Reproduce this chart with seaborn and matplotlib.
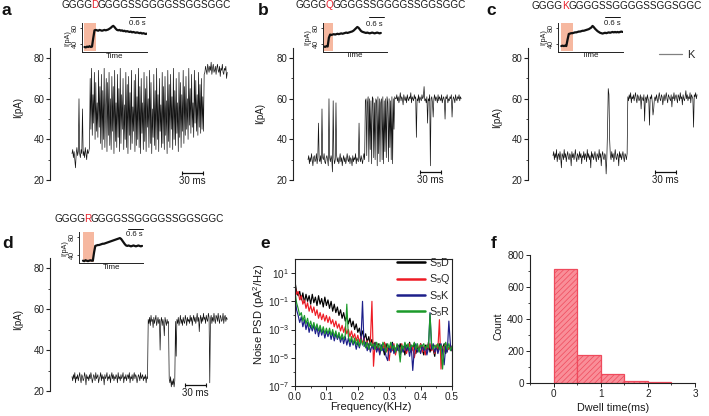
import numpy as np
import matplotlib
matplotlib.use("Agg")
import matplotlib.pyplot as plt
import matplotlib.transforms as mtransforms
import seaborn as sns
from matplotlib.lines import Line2D
from matplotlib.ticker import FixedLocator, MultipleLocator, NullFormatter

sns.set_theme(style="ticks")
plt.rcParams["font.family"] = ["Liberation Sans", "DejaVu Sans"]
plt.rcParams["mathtext.fontset"] = "custom"
plt.rcParams["mathtext.rm"] = "Liberation Sans"
plt.rcParams["mathtext.it"] = "Liberation Sans:italic"
plt.rcParams["mathtext.bf"] = "Liberation Sans:bold"
plt.rcParams["mathtext.default"] = "regular"
plt.rcParams["hatch.linewidth"] = 0.5

# ---------------- data ----------------
sequence_prefix = "GGGG"
sequence_suffix = "GGGGSSGGGGSSGGSGGC"
mutations = ["D", "Q", "K", "R"]

# current traces (pA), one sample per ms
trace_a = [33, 35, 31, 34, 30, 26, 33, 36, 32, 34, 60, 33, 31, 35, 33, 55, 32, 34, 31, 36, 33, 30, 35, 33, 34, 36,
           70, 45, 75, 42, 62, 48, 73, 40, 68, 44, 58, 41, 74, 46, 66,
           38, 72, 35, 64, 40, 75, 36, 55, 70, 34, 68, 42, 73, 37, 60, 35, 71, 44, 66, 33,
           74, 39, 58, 36, 72, 41, 65, 34, 75, 38, 62, 45, 70, 35, 57, 40, 73, 36, 67, 33,
           71, 42, 63, 35, 74, 38, 56, 44, 69, 34, 72, 37, 61, 40, 75, 36, 66, 33, 70, 43,
           58, 35, 73, 39, 65, 34, 71, 46, 60, 36, 74, 38, 68, 33, 55, 41, 72, 37, 64, 35,
           75, 40, 62, 34, 70, 44, 57, 36, 73, 38, 66, 35, 71, 42, 59, 33, 74, 39, 67, 36,
           72, 45, 61, 35, 75, 40, 64, 37, 70, 43, 58, 34, 73, 41, 68, 36, 62, 44, 74, 38,
           66, 42, 71, 45, 60, 40, 75, 47, 65, 43, 72, 46, 58, 41, 74, 48, 69, 44, 62, 42, 73, 46, 67, 43, 70, 45, 61, 44, 72,
           73, 76, 74, 72, 77, 75, 73, 76, 74, 78, 72, 75, 77, 73, 74, 76, 72, 75, 77, 74, 73, 76, 71, 75, 74, 77, 73, 72,
           75, 74, 76, 70, 73]

trace_b = [30, 32, 28, 31, 29, 33, 30, 27, 31, 32, 29, 30, 33, 28, 31, 48, 30, 29, 32, 28, 55, 31, 30, 33, 29, 28,
           31, 32, 30, 27, 60, 31, 29, 32, 30, 24, 59, 31, 28, 30, 58, 32, 29, 31, 28, 30, 33, 29, 31, 27, 30, 32,
           29, 31, 28, 30, 33, 30, 29, 32, 28, 31, 30, 27, 32, 29, 31, 30, 33, 28, 31, 30, 29, 48, 31, 29, 32, 30,
           28, 31, 33, 30,
           59, 60, 32, 58, 61, 29, 60, 35, 59, 28, 61, 60, 31, 58, 30, 60, 59, 27, 61, 33, 60, 29, 58, 60, 30, 61,
           28, 59, 34, 60, 31, 61, 58, 29, 60, 36, 59, 30, 61, 28, 60, 45, 61, 60,
           60, 62, 59, 61, 58, 60, 63, 59, 61, 60, 57, 62, 60, 59, 61, 58, 62, 60, 59, 61, 60, 63, 58, 61, 60, 59,
           62, 60, 61, 41, 60, 59, 62, 58, 61, 60, 59, 62, 60, 61, 66, 59, 60, 58, 61, 48, 60, 59, 62, 27, 60, 61,
           58, 51, 60, 62, 59, 61, 60, 58, 62, 59, 61, 60, 59, 62, 58, 60, 61, 59, 50, 61, 60, 62, 58, 60, 59, 61,
           60, 62, 51, 59, 61, 60, 58, 62, 60, 59, 61, 60, 62, 59, 61, 60]

trace_c = [32, 34, 30, 33, 31, 35, 29, 32, 33, 30, 34, 31, 26, 33, 32, 30, 35, 31, 33, 29, 32, 34, 31, 30, 33, 32,
           27, 34, 31, 33, 30, 32, 35, 31, 29, 33, 32, 30, 34, 31, 33, 28, 32, 31, 34, 30, 33, 32, 29, 35, 31, 33,
           30, 32, 26, 34, 31, 33, 30, 32, 34, 31, 29, 33, 32, 30, 35, 31, 33, 27, 32, 34, 31, 30, 33, 32, 23, 31,
           45, 65, 62, 40,
           32, 30, 34, 31, 33, 29, 32, 35, 31, 30, 33, 32, 27, 34, 31, 33, 30, 32, 34, 31, 29, 33, 32, 30, 33,
           61, 59, 62, 60, 63, 58, 61, 60, 62, 59, 61, 63, 60, 58, 62, 61, 59, 60, 62, 55, 61, 60, 59, 62, 49, 60,
           61, 58, 62, 60, 59, 47, 61, 60, 62, 58, 52, 55, 60, 61, 59, 62, 60, 58, 61, 63, 60, 59, 62, 61, 57, 60,
           62, 59, 61, 63, 60, 58, 62, 61, 60, 59, 62, 56, 61, 60, 63, 59, 61, 62, 60, 58, 62, 61, 59, 63, 60, 61,
           57, 62, 60, 59, 61, 64, 60, 62, 59, 61, 60, 63, 58, 62, 61, 60, 46, 62, 61, 63, 60, 62]

trace_d = [27, 25, 28, 26, 29, 24, 27, 26, 28, 25, 27, 29, 26, 24, 28, 27, 25, 26, 29, 27, 23, 28, 26, 27, 25, 28,
           26, 29, 27, 24, 26, 28, 27, 25, 29, 26, 27, 28, 24, 26, 27, 29, 25, 28, 26, 27, 23, 28, 26, 27, 29, 25,
           27, 26, 28, 24, 27, 29, 26, 28, 25, 27, 26, 28, 27, 24, 29, 26, 27, 25, 28, 26, 27, 29, 24, 27, 26, 28,
           25, 27, 28, 26, 29, 24, 27, 26, 28, 25, 27, 29, 26, 28, 27, 24, 26, 28, 27, 25, 29, 26, 27, 28, 25, 27,
           26, 28, 24, 27, 26,
           55, 53, 56, 52, 57, 54, 55, 51, 56, 53, 55, 57, 52, 54, 56, 53, 55, 40, 54, 56, 52, 55, 53, 47, 56, 54,
           52, 55, 53, 54,
           26, 24, 27, 22, 25, 23, 26, 22, 25,
           54, 37, 55, 53, 56, 52, 54, 57, 53, 55, 52, 56, 54, 53, 57, 55, 52, 56, 54, 55, 53, 57, 54, 56, 52, 55,
           57, 54, 56, 53, 55, 58, 54, 56, 49, 55, 57, 53, 56, 54, 58, 55, 56, 53, 57, 55, 54, 58, 56, 24, 55, 57,
           53, 56, 54, 58, 55, 53, 57, 56, 54, 58, 55, 53, 57, 56, 54, 55, 58, 53, 56, 57, 54, 56, 55]

# long-time insets (pA), one sample per 0.05 s
inset_a = [33, 32, 34, 33, 35, 33, 34, 55, 74, 75, 74, 73, 75, 74, 73, 74, 75, 74, 75, 76, 78, 80, 83, 85, 82, 78,
           75, 74, 75, 73, 74, 72, 73, 71, 72, 71, 70, 71, 69, 70, 69, 68, 69, 68, 67, 68, 66, 67, 66, 65, 66]
inset_b = [33, 32, 34, 33, 55, 63, 62, 63, 64, 63, 64, 65, 64, 65, 66, 65, 66, 67, 68, 67, 68, 69, 70, 71, 73, 76,
           79, 82, 80, 76, 72, 70, 69, 68, 67, 68, 67, 66, 67, 68, 67, 66, 67, 68, 67, 66, 67]
inset_c = [34, 35, 34, 35, 34, 50, 64, 65, 66, 66, 67, 68, 68, 69, 70, 70, 71, 72, 72, 73, 74, 75, 76, 78, 80, 84,
           81, 77, 74, 71, 69, 67, 66, 65, 66, 67, 66, 67, 68, 67, 68, 69, 68, 69, 68, 69, 68, 69, 70, 69]
inset_d = [26, 25, 27, 26, 25, 26, 27, 26, 26, 45, 60, 61, 62, 62, 63, 64, 65, 65, 66, 67, 68, 69, 70, 71, 72, 73,
           74, 75, 76, 77, 78, 76, 72, 68, 64, 61, 60, 61, 60, 59, 60, 61, 60, 59, 60, 61, 60, 59, 60]
inset_start = [0.10, 0.05, 0.12, 0.15]          # s
inset_shade = [(0.09, 0.55), (0.01, 0.41), (0.10, 0.58), (0.13, 0.59)]  # s

# noise PSD, log10(pA^2/Hz), evenly spaced over 0-0.5 kHz
psd_labels = ["S$_5$D", "S$_5$Q", "S$_5$K", "S$_5$R"]
psd_D = [0.4, -0.3, -0.6, -0.3, -0.9, -0.4, -1.1, -0.5, -1.0, -0.6, -1.2,
         -0.5, -1.1, -0.7, -1.3, -0.6, -1.2, -0.8, -1.4, -0.7, -1.3,
         -0.9, -1.5, -1.0, -1.7, -1.2, -1.8, -1.4, -2.0, -1.6, -2.2,
         -1.8, -2.4, -2.0, -2.6, -2.2, -2.8, -2.4, -3.0, -2.6, -3.2,
         -2.9, -3.5, -3.1, -3.7, -3.3, -3.9, -3.5, -4.1, -3.7, -4.2,
         -3.9, -4.4, -4.0, -4.6, -4.1, -4.3, -4.8, -4.0, -4.5, -4.2,
         -4.6, -3.9, -4.4, -4.7, -4.1, -4.5, -4.0, -4.6, -4.2, -4.8,
         -4.1, -4.4, -3.9, -4.6, -4.3, -4.0, -4.7, -4.2, -4.5, -4.0,
         -4.4, -4.8, -4.1, -4.5, -3.9, -4.6, -4.2, -4.4, -4.9, -4.1,
         -4.5, -4.0, -4.6, -4.3, -4.0, -4.7, -4.2, -4.4, -4.1, -4.5]
psd_Q = [0.1, -0.5, -0.3, -0.9, -0.6, -1.2, -0.9, -1.5, -1.1, -1.7, -1.3,
         -1.8, -1.4, -2.0, -1.6, -2.2, -1.8, -2.3, -1.9, -2.4, -2.0,
         -2.5, -2.1, -2.6, -2.3, -2.8, -2.4, -2.9, -2.6, -3.1, -2.7,
         -3.2, -2.8, -3.3, -3.0, -3.5, -3.1, -3.6, -3.3, -3.8, -3.4,
         -3.9, -3.5, -4.0, -3.6, -4.2, -3.8, -4.4, -3.9, -1.0, -5.6,
         -4.0, -4.5, -4.1, -4.7, -4.2, -4.4, -3.9, -4.6, -4.3, -5.2,
         -4.1, -4.5, -4.0, -4.8, -4.2, -4.4, -4.6, -4.0, -4.5, -4.1,
         -4.7, -4.3, -4.0, -4.6, -4.2, -5.0, -4.4, -4.1, -4.5, -4.0,
         -4.6, -4.2, -4.8, -4.1, -4.4, -4.0, -4.5, -4.3, -4.7, -4.1,
         -4.4, -2.3, -5.8, -4.2, -4.6, -4.0, -4.5, -4.3, -4.1, -4.5]
psd_K = [-0.7, -1.6, -2.0, -2.5, -2.1, -2.8, -2.3, -3.0, -2.5, -3.2, -2.7,
         -3.1, -2.7, -3.3, -2.8, -3.5, -2.9, -3.4, -3.0, -3.6, -3.1,
         -3.5, -3.1, -3.7, -3.2, -3.8, -3.3, -3.7, -3.4, -3.9, -3.5,
         -4.0, -3.5, -4.1, -3.6, -4.2, -3.7, -4.1, -3.8, -4.4, -3.9,
         -4.3, -3.8, -1.0, -4.2, -3.9, -4.5, -4.0, -4.6, -4.1, -4.4,
         -4.0, -4.6, -4.2, -4.8, -4.1, -4.5, -4.3, -4.9, -5.2, -4.2,
         -4.6, -4.0, -4.7, -4.3, -4.5, -4.1, -4.8, -4.2, -4.6, -4.0,
         -4.5, -4.2, -4.9, -4.1, -5.9, -4.4, -4.0, -4.6, -4.3, -4.7,
         -4.1, -4.5, -4.2, -4.8, -4.3, -1.8, -4.4, -4.0, -4.6, -4.2,
         -4.7, -4.3, -4.0, -4.5, -5.5, -4.2, -4.6, -2.4, -4.1, -4.5]
psd_R = [-0.3, -1.1, -1.5, -2.0, -1.8, -2.4, -2.0, -2.6, -2.2, -2.8, -2.4,
         -2.9, -2.5, -3.0, -2.6, -3.1, -2.7, -3.2, -2.8, -3.3, -2.9,
         -3.3, -2.9, -3.4, -3.0, -3.5, -3.1, -3.6, -3.2, -3.7, -3.3,
         -3.7, -3.4, -1.2, -3.5, -3.9, -3.5, -4.0, -3.6, -4.1, -3.7,
         -4.2, -3.7, -4.1, -3.8, -4.3, -3.9, -4.4, -3.9, -4.2, -4.0,
         -4.4, -3.9, -4.3, -4.0, -4.5, -3.9, -4.2, -4.6, -4.0, -4.3,
         -3.9, -4.4, -4.1, -4.6, -4.0, -4.3, -5.3, -4.1, -4.4, -3.9,
         -4.3, -4.0, -4.5, -4.1, -4.2, -3.9, -4.4, -4.0, -4.6, -4.1,
         -4.2, -4.0, -4.4, -4.1, -4.3, -1.9, -4.0, -4.4, -4.1, -4.3,
         -4.0, -4.4, -4.1, -5.8, -4.2, -3.9, -4.4, -4.0, -4.5, -4.2]
psd_colors = ["#000000", "#ee1c25", "#1d1f8a", "#1c9a2a"]

# dwell-time histogram
dwell_edges = [0.0, 0.5, 1.0, 1.5, 2.0, 2.5]
dwell_counts = [710, 175, 57, 13, 8]

# ---------------- layout ----------------
W, H = 709, 416
fig = plt.figure(figsize=(W / 100, H / 100), dpi=100)
TRACE_DT = 1.0     # ms per sample
MS_PER_PX = 1.43
INSET_DT = 0.05
TXT = "#1a1a1a"


def px_ax(l, t, r, b):
    ax = fig.add_axes([l / W, 1 - b / H, (r - l) / W, (b - t) / H])
    ax.patch.set_alpha(0)
    return ax


def seq_text(x, y, mut):
    rend = fig.canvas.get_renderer()
    kw = dict(fontsize=7.2, va="center", ha="left")
    t1 = fig.text(x / W, 1 - y / H, sequence_prefix, color=TXT, **kw)
    x1 = t1.get_window_extent(rend).x1 - 0.7
    t2 = fig.text(x1 / W, 1 - y / H, mut, color="#e8202a", **kw)
    x2 = t2.get_window_extent(rend).x1 - 0.7
    fig.text(x2 / W, 1 - y / H, sequence_suffix, color=TXT, **kw)


def letter(x, y, s):
    fig.text(x / W, 1 - y / H, s, fontsize=12.5, fontweight="bold", va="baseline", ha="left", color="#111111")


def trace_panel(box, start_px, values, bar_px, bar_y, lab_x, lab_y, seq_xy, mut):
    l, t, r, b = box
    ax = px_ax(*box)
    time = np.arange(len(values)) * TRACE_DT
    sns.lineplot(x=time, y=values, ax=ax, color="#141414", lw=0.5,
                 estimator=None, sort=False, errorbar=None)
    ax.set_xlim((l - start_px) * MS_PER_PX, (r - start_px) * MS_PER_PX)
    ax.set_ylim(20, 85)
    for s in ("top", "right", "bottom"):
        ax.spines[s].set_visible(False)
    ax.spines["left"].set_linewidth(0.8)
    ax.spines["left"].set_color("#222222")
    ax.set_xticks([])
    ax.set_yticks([20, 40, 60, 80])
    ax.yaxis.set_minor_locator(FixedLocator([30, 50, 70]))
    ax.tick_params(axis="y", which="major", length=3, width=0.8, pad=1.2, labelsize=7, colors="#222222")
    ax.tick_params(axis="y", which="minor", length=1.6, width=0.6, colors="#222222")
    ax.set_xlabel("")
    ax.set_ylabel("I(pA)", fontsize=7, color=TXT)
    ax.yaxis.set_label_coords((lab_x - l) / (r - l), (b - lab_y) / (b - t))
    pa_per_px = 65 / (b - t)
    y0 = 20 + (b - bar_y) * pa_per_px
    x0 = (bar_px - start_px) * MS_PER_PX
    ax.plot([x0, x0 + 30], [y0, y0], color="#111111", lw=0.9, clip_on=False,
            marker="|", ms=3, mew=0.8)
    ax.annotate("30 ms", xy=(x0 + 15, y0), xytext=(0, -2.3), textcoords="offset points",
                ha="center", va="top", fontsize=7, color=TXT, annotation_clip=False)
    seq_text(seq_xy[0], seq_xy[1], mut)
    return ax


def inset_panel(box, start_s, values, shade, bar_px, bar_y, text_xy):
    l, t, r, b = box
    ax = px_ax(*box)
    ax.axvspan(shade[0], shade[1], ymin=0.03, ymax=0.99, color="#f6b8a0", lw=0, zorder=0)
    tt = start_s + np.arange(len(values)) * INSET_DT
    sns.lineplot(x=tt, y=values, ax=ax, color="#111111", lw=1.6,
                 estimator=None, sort=False, errorbar=None)
    ax.set_xlim(0, 2.6)
    ax.set_ylim(20, 92)
    for s in ("top", "right"):
        ax.spines[s].set_visible(False)
    for s in ("left", "bottom"):
        ax.spines[s].set_linewidth(0.7)
        ax.spines[s].set_color("#222222")
    ax.set_xticks([])
    ax.set_yticks([40, 80])
    ax.tick_params(axis="y", length=1.5, width=0.6, pad=0.8, labelsize=5.2, labelrotation=90)
    for lab in ax.get_yticklabels():
        lab.set_va("center")
    ax.set_ylabel("I(pA)", fontsize=5.2, labelpad=0.5, color=TXT)
    ax.set_xlabel("Time", fontsize=5.8, labelpad=0.5, color=TXT)
    s_per_px = 2.6 / (r - l)
    tr = mtransforms.blended_transform_factory(ax.transData, ax.transAxes)
    bx0 = (bar_px - l) * s_per_px
    yb = (b - bar_y) / (b - t)
    ax.plot([bx0, bx0 + 0.6], [yb, yb], transform=tr, color="#111111", lw=0.7, clip_on=False)
    ax.text((text_xy[0] - l) * s_per_px, (b - text_xy[1]) / (b - t), "0.6 s", transform=tr,
            ha="center", va="center", fontsize=5.6, color=TXT)
    return ax


# panels a-d
trace_panel((50, 48, 236, 180), 72, trace_a, 182, 173, 23, 107.5, (61, 5.5), mutations[0])
trace_panel((293, 48, 472, 180), 308, trace_b, 420, 171.5, 265, 113, (295, 5.5), mutations[1])
ax_c = trace_panel((528, 48, 705, 180), 553, trace_c, 655, 172.3, 502, 117.5, (532, 6.3), mutations[2])
trace_panel((50, 258, 240, 391), 72, trace_d, 185, 385, 23, 320, (54, 218.5), mutations[3])

ax_c.legend(handles=[Line2D([], [], color="#808080", lw=0.9)], labels=["K"], loc="upper right",
            bbox_to_anchor=((694 - 528) / 177, (180 - 50) / 132), frameon=False, fontsize=8,
            handlelength=2.1, handletextpad=0.4, borderaxespad=0, borderpad=0)

inset_panel((82, 23, 147, 52.3), inset_start[0], inset_a, inset_shade[0], 130, 17.3, (137.5, 23.5))
inset_panel((322.7, 23, 387, 51.7), inset_start[1], inset_b, inset_shade[1], 369, 16.7, (374.5, 24))
inset_panel((558.3, 22.7, 623.3, 51.7), inset_start[2], inset_c, inset_shade[2], 605, 17.3, (612, 23.7))
inset_panel((79.3, 232, 143.3, 263.3), inset_start[3], inset_d, inset_shade[3], 128, 229.3, (134, 234.2))

# panel e
el, et, er, eb = 295, 259, 452, 386
ax_e = px_ax(el, et, er, eb)
for lab, vals, col in zip(psd_labels, [psd_D, psd_Q, psd_K, psd_R], psd_colors):
    f = np.linspace(0, 0.5, len(vals))
    sns.lineplot(x=f, y=np.power(10.0, vals), ax=ax_e, color=col, lw=0.85,
                 estimator=None, sort=False, errorbar=None)
ax_e.set_yscale("log")
ax_e.set_xlim(0, 0.5)
ax_e.set_ylim(1e-7, 1e2)
ax_e.yaxis.set_major_locator(FixedLocator([1e-7, 1e-5, 1e-3, 1e-1, 1e1]))
ax_e.yaxis.set_minor_locator(FixedLocator([1e-6, 1e-4, 1e-2, 1e0]))
ax_e.yaxis.set_minor_formatter(NullFormatter())
ax_e.set_xticks([0.0, 0.1, 0.2, 0.3, 0.4, 0.5])
ax_e.set_xticklabels(["0.0", "0.1", "0.2", "0.3", "0.4", "0.5"])
ax_e.xaxis.set_minor_locator(MultipleLocator(0.05))
for s in ax_e.spines.values():
    s.set_linewidth(0.8)
    s.set_color("#222222")
ax_e.tick_params(which="major", length=2.8, width=0.7, pad=1.5, labelsize=7.2, colors="#222222")
ax_e.tick_params(which="minor", length=1.6, width=0.6, colors="#222222")
ax_e.set_xlabel("Frequency(KHz)", fontsize=8, color=TXT)
ax_e.set_ylabel("Noise PSD (pA$^2$/Hz)", fontsize=8, color=TXT)
ax_e.yaxis.set_label_coords((267 - el) / (er - el), (eb - 314) / (eb - et))
ax_e.xaxis.set_label_coords((370.5 - el) / (er - el), (eb - 402) / (eb - et))
ax_e.legend([Line2D([], [], color=c, lw=1.8) for c in psd_colors], psd_labels,
            loc="upper right", bbox_to_anchor=(1.0, 1.03), frameon=False, fontsize=7.8,
            handlelength=2.6, handletextpad=0.35, labelspacing=0.22, borderaxespad=0, borderpad=0.1)

# panel f
fl, ft, fr, fb = 530, 255, 695, 383.3
ax_f = px_ax(fl, ft, fr, fb)
edges = np.array(dwell_edges)
centers = (edges[:-1] + edges[1:]) / 2
sns.histplot(x=centers, weights=dwell_counts, bins=dwell_edges, ax=ax_f,
             color="#f98e98", alpha=1, edgecolor="#ef4a5c", linewidth=0.9)
for p in ax_f.patches:
    p.set_hatch("//////")
    p.set_facecolor("#f98e98")
    p.set_edgecolor("#ef4a5c")
ax_f.set_xlim(-0.5, 3)
ax_f.set_ylim(0, 800)
ax_f.set_xticks([0, 1, 2, 3])
ax_f.xaxis.set_minor_locator(MultipleLocator(0.5))
ax_f.set_yticks([0, 200, 400, 600, 800])
ax_f.yaxis.set_minor_locator(MultipleLocator(100))
for s in ("top", "right"):
    ax_f.spines[s].set_visible(False)
for s in ("left", "bottom"):
    ax_f.spines[s].set_linewidth(0.8)
    ax_f.spines[s].set_color("#222222")
ax_f.tick_params(which="major", length=2.8, width=0.7, pad=1.5, labelsize=7.2, colors="#222222")
ax_f.tick_params(which="minor", length=1.6, width=0.6, colors="#222222")
ax_f.set_xlabel("Dwell time(ms)", fontsize=7.8, color=TXT)
ax_f.set_ylabel("Count", fontsize=7.5, color=TXT)
ax_f.yaxis.set_label_coords((504 - fl) / (fr - fl), (fb - 326.7) / (fb - ft))
ax_f.xaxis.set_label_coords((613 - fl) / (fr - fl), (fb - 403) / (fb - ft))

# panel letters
letter(2, 15, "a")
letter(258, 15, "b")
letter(486, 15, "c")
letter(2, 248, "d")
letter(260, 247.5, "e")
letter(491, 247.5, "f")

fig.savefig("out.png", dpi=100)
